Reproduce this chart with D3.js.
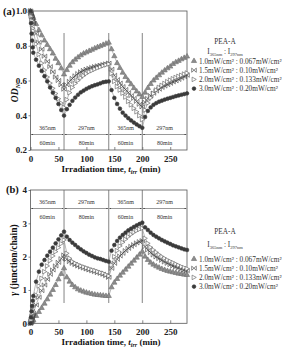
<!DOCTYPE html>
<html>
<head>
<meta charset="utf-8">
<title>PEA-A ODN / gamma</title>
<style>
body{margin:0;background:#fff;}
svg{display:block;font-family:"Liberation Serif","Times New Roman",serif;}
.frame{fill:none;stroke:#555;stroke-width:0.8px;}
.axis path{display:none;}
.axis line{stroke:#555;stroke-width:0.7px;}
.axis text{font-size:9px;font-weight:bold;fill:#222;font-family:"Liberation Serif",serif;}
.link{fill:none;stroke:#8a8a8a;stroke-width:0.6px;}
.divider{stroke:#666;stroke-width:0.8px;}
.span{stroke:#555;stroke-width:0.6px;}
.note{font-size:6px;fill:#333;}
.leg{font-size:7.3px;fill:#333;}
.ttl{font-weight:bold;fill:#111;}
</style>
</head>
<body>
<svg width="289" height="351"></svg>
<script src="https://cdn.jsdelivr.net/npm/d3@7/dist/d3.min.js"></script>
<script>
// sampling times (min)
var times = [0,1,2,3,4,5,10,15,20,25,30,35,40,45,50,55,60,
  65,70,75,80,85,90,95,100,105,110,115,120,125,130,135,140,
  145,150,155,160,165,170,175,180,185,190,195,200,
  205,210,215,220,225,230,235,240,245,250,255,260,265,270,275,280];

// (a) ODN
var od10 = [1.0,0.99,0.98,0.975,0.967, 0.96,0.925,0.89,0.86,0.83,0.805,0.78,0.755,0.725,0.70,0.67,0.635,
  0.66,0.685,0.705,0.72,0.733,0.745,0.755,0.762,0.77,0.777,0.785,0.792,0.798,0.805,0.812,0.818,
  0.78,0.74,0.70,0.672,0.645,0.62,0.598,0.578,0.556,0.537,0.52,0.505,
  0.53,0.557,0.58,0.60,0.615,0.63,0.645,0.658,0.67,0.68,0.695,0.705,0.713,0.722,0.73,0.738];
var od15 = [1.0,0.985,0.97,0.955,0.94, 0.93,0.87,0.82,0.78,0.74,0.71,0.68,0.65,0.62,0.60,0.575,0.55,
  0.575,0.595,0.612,0.627,0.64,0.65,0.658,0.665,0.67,0.675,0.68,0.684,0.688,0.692,0.696,0.70,
  0.665,0.63,0.605,0.585,0.565,0.548,0.53,0.513,0.497,0.48,0.463,0.448,
  0.475,0.497,0.513,0.527,0.54,0.55,0.56,0.568,0.576,0.584,0.592,0.598,0.606,0.614,0.622,0.63];
var od20 = [1.0,0.97,0.945,0.92,0.90, 0.885,0.81,0.75,0.70,0.66,0.62,0.585,0.555,0.525,0.495,0.47,0.445,
  0.49,0.53,0.56,0.583,0.60,0.615,0.628,0.64,0.65,0.657,0.665,0.672,0.678,0.685,0.69,0.695,
  0.64,0.595,0.565,0.545,0.527,0.505,0.48,0.46,0.44,0.42,0.398,0.375,
  0.43,0.47,0.50,0.525,0.545,0.56,0.572,0.583,0.593,0.602,0.61,0.617,0.624,0.63,0.637,0.643];
var od30 = [1.0,0.93,0.87,0.83,0.79, 0.76,0.72,0.685,0.655,0.625,0.595,0.56,0.53,0.50,0.465,0.43,0.398,
  0.435,0.46,0.483,0.502,0.518,0.532,0.542,0.552,0.56,0.567,0.573,0.578,0.584,0.59,0.593,0.595,
  0.545,0.50,0.465,0.438,0.415,0.398,0.383,0.37,0.358,0.347,0.337,0.328,
  0.39,0.425,0.445,0.46,0.47,0.478,0.484,0.49,0.495,0.5,0.505,0.51,0.514,0.518,0.522,0.526];

// (b) gamma (junction/chain)
var gm10 = [0,0.02,0.04,0.06,0.08, 0.1,0.22,0.34,0.46,0.59,0.72,0.86,1.0,1.15,1.32,1.48,1.65,
  1.38,1.25,1.15,1.08,1.02,0.98,0.95,0.92,0.9,0.88,0.86,0.85,0.84,0.83,0.82,0.82,
  1.08,1.22,1.33,1.43,1.52,1.61,1.7,1.79,1.88,1.97,2.06,2.15,
  2.0,1.9,1.82,1.76,1.71,1.67,1.63,1.6,1.57,1.55,1.53,1.51,1.49,1.48,1.46,1.45];
var gm15 = [0,0.06,0.12,0.18,0.24, 0.3,0.55,0.78,0.98,1.15,1.32,1.47,1.6,1.72,1.83,1.94,2.05,
  1.92,1.85,1.8,1.76,1.72,1.69,1.66,1.63,1.6,1.58,1.55,1.52,1.5,1.47,1.43,1.38,
  1.65,1.8,1.92,2.02,2.1,2.18,2.25,2.31,2.36,2.41,2.45,2.48,
  2.3,2.2,2.12,2.05,1.99,1.94,1.89,1.84,1.8,1.76,1.72,1.69,1.66,1.63,1.6,1.58];
var gm20 = [0,0.1,0.2,0.3,0.4, 0.5,0.85,1.12,1.35,1.55,1.72,1.88,2.02,2.15,2.27,2.39,2.5,
  2.1,1.95,1.85,1.8,1.76,1.72,1.69,1.66,1.63,1.6,1.58,1.55,1.52,1.5,1.46,1.42,
  1.75,2.0,2.18,2.32,2.43,2.52,2.6,2.67,2.73,2.78,2.82,2.85,
  2.55,2.4,2.28,2.2,2.13,2.06,2.0,1.95,1.9,1.86,1.82,1.78,1.74,1.7,1.67,1.64];
var gm30 = [0,0.18,0.36,0.52,0.68, 0.82,1.25,1.55,1.76,1.9,2.03,2.15,2.27,2.4,2.52,2.64,2.75,
  2.6,2.5,2.42,2.35,2.28,2.22,2.16,2.11,2.06,2.02,1.98,1.95,1.93,1.9,1.87,1.85,
  2.18,2.35,2.47,2.57,2.65,2.72,2.79,2.84,2.89,2.94,2.98,3.02,
  2.88,2.8,2.72,2.65,2.6,2.55,2.5,2.46,2.42,2.38,2.34,2.31,2.28,2.25,2.22,2.2];

var legendLabels = ["1.0mW/cm\u00b2 : 0.067mW/cm\u00b2","1.5mW/cm\u00b2 : 0.10mW/cm\u00b2",
  "2.0mW/cm\u00b2 : 0.133mW/cm\u00b2","3.0mW/cm\u00b2 : 0.20mW/cm\u00b2"];
var segBounds = [0,60,140,200,280];
var segWave = ["365nm","297nm","365nm","297nm"];
var segDur = ["60min","80min","60min","80min"];
var timeTicks = [0,50,100,150,200,250];
var odTicks = [0.2,0.4,0.6,0.8,1.0];
var gmTicks = [0,1,2,3,4];

var svg = d3.select("svg");
var x = d3.scaleLinear().domain([0,280]).range([30.5,187]);

// marker look per series
var looks = [
  {type:"tri",  fill:"#8c8c8c", stroke:"#6f6f6f"},
  {type:"bow",  fill:"none",    stroke:"#3c3c3c"},
  {type:"rtri", fill:"#fff",    stroke:"#5a5a5a"},
  {type:"dot",  fill:"#3a3a3a", stroke:"#3a3a3a"}
];
function glyph(t){
  if(t=="tri") return d3.symbol().type(d3.symbolTriangle).size(12)();
  if(t=="bow") return "M-2.3,-2.1L2.3,2.1L2.3,-2.1L-2.3,2.1Z";
  if(t=="rtri") return "M-1.9,-2.3L2.3,0L-1.9,2.3Z";
  return d3.symbol().type(d3.symbolCircle).size(11)();
}

var defs = svg.append("defs");
defs.append("marker").attr("id","arr").attr("viewBox","0 0 6 6").attr("refX",6).attr("refY",3)
  .attr("markerWidth",3.2).attr("markerHeight",3.2).attr("orient","auto-start-reverse")
  .append("path").attr("d","M0,0L6,3L0,6Z").attr("fill","#444");

function panel(cfg){
  var y = d3.scaleLinear().domain(cfg.domain).range([cfg.bottom, cfg.top]);
  var g = svg.append("g");

  g.append("rect").attr("class","frame")
    .attr("x",x(0)).attr("y",cfg.top).attr("width",x(280)-x(0)).attr("height",cfg.bottom-cfg.top);

  g.append("g").attr("class","axis").attr("transform","translate(0,"+cfg.bottom+")")
    .call(d3.axisBottom(x).tickValues(timeTicks).tickSize(-3).tickPadding(5.5));
  g.append("g").attr("class","axis").attr("transform","translate("+x(0)+",0)")
    .call(d3.axisLeft(y).tickValues(cfg.ticks).tickFormat(cfg.fmt).tickSize(2).tickPadding(1.5));

  // irradiation switch lines
  g.selectAll(".divider").data(segBounds.slice(1,4)).enter().append("line")
    .attr("class","divider")
    .attr("x1",function(d){return x(d);}).attr("x2",function(d){return x(d);})
    .attr("y1",cfg.divTop).attr("y2",cfg.divBottom);

  // span arrows + notes
  var segs = segWave.map(function(w,i){return {a:segBounds[i],b:segBounds[i+1],w:w,d:segDur[i]};});
  g.selectAll(".span").data(segs).enter().append("line").attr("class","span")
    .attr("x1",function(d){return x(d.a)+0.6;}).attr("x2",function(d){return x(d.b)-0.6;})
    .attr("y1",cfg.spanY).attr("y2",cfg.spanY)
    .attr("marker-start","url(#arr)").attr("marker-end","url(#arr)");
  g.selectAll(".wv").data(segs).enter().append("text").attr("class","note")
    .attr("x",function(d){return x((d.a+d.b)/2);}).attr("y",cfg.spanY-4.5)
    .attr("text-anchor","middle").text(function(d){return d.w;});
  g.selectAll(".dr").data(segs).enter().append("text").attr("class","note")
    .attr("x",function(d){return x((d.a+d.b)/2);}).attr("y",cfg.spanY+10)
    .attr("text-anchor","middle").text(function(d){return d.d;});

  // series
  var line = d3.line().x(function(d){return x(d[0]);}).y(function(d){return y(d[1]);});
  cfg.series.forEach(function(vals,i){
    var pts = times.map(function(t,j){return [t,vals[j]];});
    var sg = g.append("g");
    sg.append("path").attr("class","link").datum(pts).attr("d",line);
    sg.selectAll("path.pt").data(pts).enter().append("path").attr("class","pt")
      .attr("d",glyph(looks[i].type))
      .attr("transform",function(d){return "translate("+x(d[0])+","+y(d[1])+")";})
      .attr("fill",looks[i].fill).attr("stroke",looks[i].stroke).attr("stroke-width",0.6);
  });

  // legend
  var lg = g.append("g").attr("transform","translate(0,"+cfg.legY+")");
  lg.append("text").attr("class","leg").attr("x",225).attr("y",3 - cfg.headUp).attr("text-anchor","middle").text("PEA-A");
  var it = lg.append("text").attr("class","leg").attr("x",225).attr("y",13 - cfg.headUp*0.6).attr("text-anchor","middle");
  it.append("tspan").text("I");
  it.append("tspan").attr("font-size","4.5px").attr("dy",1.5).text("365nm");
  it.append("tspan").attr("dy",-1.5).text(" : I");
  it.append("tspan").attr("font-size","4.5px").attr("dy",1.5).text("297nm");
  legendLabels.forEach(function(s,i){
    var ry = 20 + i*9.2;
    lg.append("path").attr("d",glyph(looks[i].type)).attr("transform","translate(194,"+ry+")")
      .attr("fill",looks[i].fill).attr("stroke",looks[i].stroke).attr("stroke-width",0.6);
    lg.append("text").attr("class","leg").attr("x",199).attr("y",ry+2.6).text(s);
  });

  // titles
  var xl = g.append("text").attr("class","ttl").attr("x",111).attr("y",cfg.bottom+22)
    .attr("text-anchor","middle").attr("font-size","9px");
  xl.append("tspan").text("Irradiation time, ");
  xl.append("tspan").attr("font-style","italic").text("t");
  xl.append("tspan").attr("font-style","italic").attr("font-size","6px").attr("dy",1.8).text("irr");
  xl.append("tspan").attr("dy",-1.8).text(" (min)");

  var yl = g.append("text").attr("class","ttl").attr("font-size","9.5px").attr("text-anchor","middle")
    .attr("transform","translate("+cfg.yLabX+","+cfg.yLabY+") rotate(-90)");
  cfg.yLabel(yl);

  g.append("text").attr("class","ttl").attr("x",cfg.tagX).attr("y",cfg.tagY)
    .attr("font-size","10.5px").text(cfg.tag);
}

panel({
  top:11, bottom:150, domain:[0.2,1.0], ticks:odTicks, fmt:d3.format(".1f"),
  series:[od10,od15,od20,od30], divTop:33, divBottom:150, spanY:134.5,
  legY:41, headUp:0, yLabX:18, yLabY:93, tag:"(a)", tagX:3, tagY:15,
  yLabel:function(t){
    t.append("tspan").attr("font-style","italic").text("OD");
    t.append("tspan").attr("font-style","italic").attr("font-size","6.5px").attr("dy",2).text("N");
  }
});
panel({
  top:190, bottom:323.3, domain:[0,4], ticks:gmTicks, fmt:d3.format("d"),
  series:[gm10,gm15,gm20,gm30], divTop:190, divBottom:303, spanY:208.5,
  legY:239, headUp:8, yLabX:17, yLabY:260, tag:"(b)", tagX:6, tagY:193,
  yLabel:function(t){
    t.append("tspan").attr("font-style","italic").text("\u03b3");
    t.append("tspan").text(" (junction/chain)");
  }
});
</script>
</body>
</html>
